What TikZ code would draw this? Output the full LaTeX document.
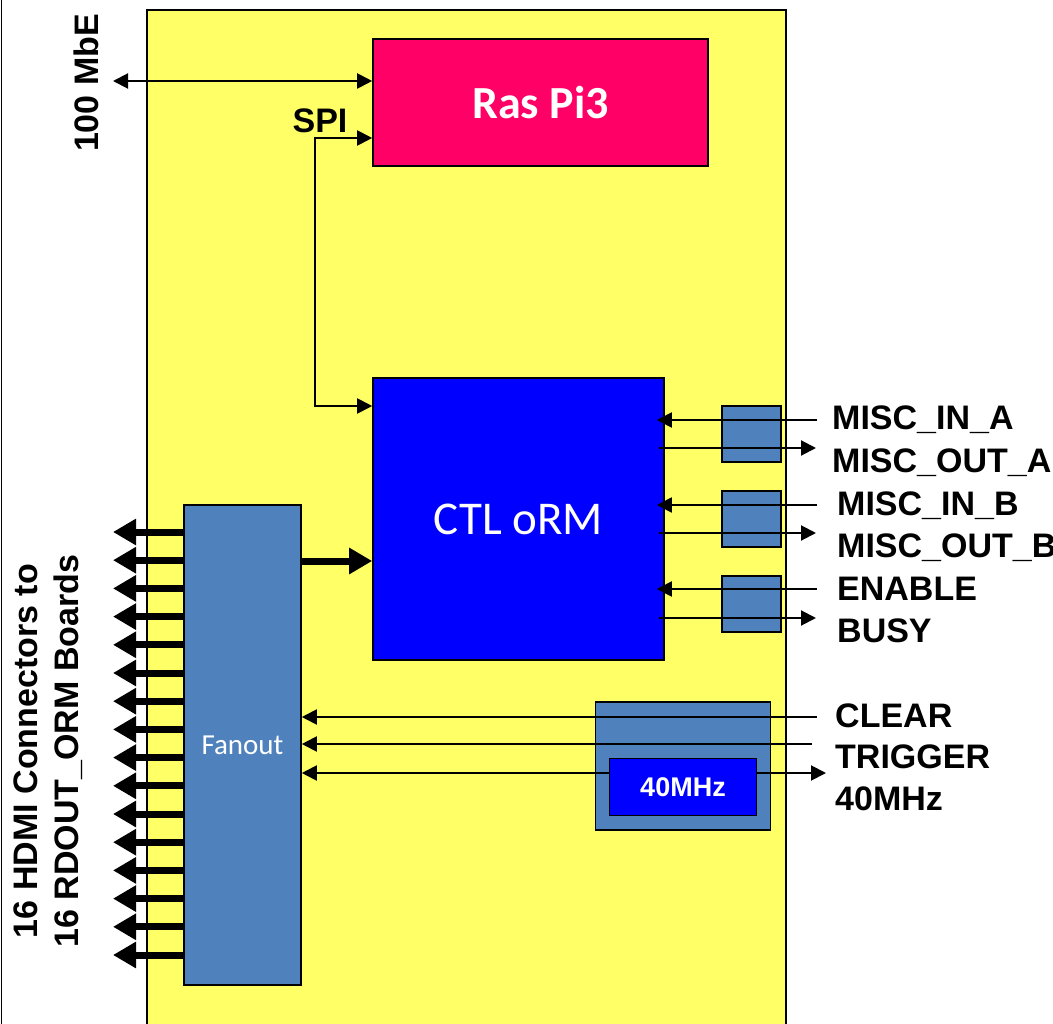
\documentclass[tikz,border=0pt]{standalone}
\usepackage{fontspec}
\setmainfont{Liberation Sans}
\newfontfamily\calfont{Carlito}
\usetikzlibrary{arrows.meta, positioning, calc}

\definecolor{boardY}{RGB}{255,255,102}
\definecolor{piRed}{RGB}{255,0,102}
\definecolor{ctlB}{RGB}{0,0,255}
\definecolor{steel}{RGB}{79,129,189}

\begin{document}
\begin{tikzpicture}[
    x=1pt, y=-1pt,
    font=\bfseries\fontsize{34}{41}\selectfont,
    blk/.style={draw=black, line width=1.6pt, inner sep=0pt, anchor=center},
    sig/.style={-{Triangle[length=15pt,width=15pt]}, line width=2pt},
    sigboth/.style={{Triangle[length=15pt,width=15pt]}-{Triangle[length=15pt,width=15pt]}, line width=2pt},
    hdmi/.style={-{Triangle[length=23pt,width=25pt]}, line width=7pt},
    lbl/.style={anchor=base west, inner sep=0pt},
]

\clip (0,0) rectangle (1053,1024);
\draw[line width=1pt] (1,0) -- (1,1024);

% ===== Board =====
\node[blk, fill=boardY, minimum width=639pt, minimum height=1040pt] (board) at (466.5,530) {};

% ===== Ras Pi3 =====
\node[blk, fill=piRed, minimum width=335pt, minimum height=127pt,
      text=white, font=\calfont\bfseries\fontsize{46}{52}\selectfont] (rpi) at (540.5,102.5) {Ras Pi3};

% ===== CTL oRM =====
\node[blk, fill=ctlB, minimum width=291pt, minimum height=282pt,
      text=white, font=\calfont\fontsize{47}{52}\selectfont] (ctl) at (518.5,519) {CTL oRM};

% ===== Fanout =====
\node[blk, fill=steel, minimum width=117pt, minimum height=480pt,
      text=white, font=\calfont\fontsize{29}{33}\selectfont] (fanout) at (242.5,745) {Fanout};

% ===== Misc buffer boxes =====
\node[blk, fill=steel, minimum width=59pt, minimum height=56pt] (bufA) at (751.5,434) {};
\node[blk, fill=steel, minimum width=59pt, minimum height=56pt] (bufB) at (751.5,519) {};
\node[blk, fill=steel, minimum width=59pt, minimum height=56pt] (bufE) at (751.5,604) {};

% ===== Clock box =====
\node[blk, fill=steel, minimum width=175pt, minimum height=128pt] (clkbox) at (683,766) {};

% ===== Ethernet and SPI =====
\coordinate (mbe) at (113,81);
\draw[sigboth] (mbe) -- (rpi.west |- mbe);
\node[rotate=90] (mbelbl) at (86,83) {100 MbE};

\coordinate (spiTop) at (315,138);
\coordinate (spiBot) at (315,406);
\draw[sigboth] (rpi.west |- spiTop) -- (spiTop) -- (spiBot) -- (ctl.west |- spiBot);
\node[anchor=base, inner sep=0pt] (spilbl) at (320,133) {SPI};

% Fanout -> CTL
\coordinate (fcl) at (301,561);
\draw[hdmi] (fcl) -- (ctl.west |- fcl);

% 16 HDMI outputs
\foreach \i in {0,...,15} {
    \coordinate (hdmi\i) at (113,{532+28.2*\i});
    \draw[hdmi] (fanout.west |- hdmi\i) -- (hdmi\i);
}
\node[rotate=90, align=center] (hdmilbl) at (48,751) {16 HDMI Connectors to\\16 RDOUT\_ORM Boards};

% ===== Misc signals =====
\coordinate (inA) at (817,420);
\coordinate (outA) at (816,448);
\coordinate (inB) at (817,505);
\coordinate (outB) at (816,533);
\coordinate (inE) at (817,589);
\coordinate (outE) at (816,618);
\foreach \p in {inA,inB,inE} {
    \draw[sig] (\p) -- ([xshift=-8pt]ctl.east |- \p);
}
\foreach \p in {outA,outB,outE} {
    \draw[sig] ([xshift=-6pt]ctl.east |- \p) -- (\p);
}
\node[lbl] (lInA) at (832,430) {MISC\_IN\_A};
\node[lbl] (lOutA) at (832,472) {MISC\_OUT\_A};
\node[lbl] (lInB) at (837,515) {MISC\_IN\_B};
\node[lbl] (lOutB) at (837,557) {MISC\_OUT\_B};
\node[lbl] (lEn) at (837,600) {ENABLE};
\node[lbl] (lBusy) at (837,642) {BUSY};

% ===== Clear / trigger / clock =====
\coordinate (clr) at (817,717);
\coordinate (trg) at (812,744);
\coordinate (clk) at (826,773);
\draw[sig] (clr) -- (fanout.east |- clr);
\draw[sig] (trg) -- (fanout.east |- trg);
\draw[sigboth] (fanout.east |- clk) -- (clk);
\node[blk, fill=ctlB, minimum width=147pt, minimum height=57pt,
      text=white, font=\bfseries\fontsize{27}{31}\selectfont] (osc) at (683,787) {40MHz};

\node[lbl] (lClr) at (835,727) {CLEAR};
\node[lbl] (lTrg) at (835,768) {TRIGGER};
\node[lbl] (lClk) at (835,810) {40MHz};

\end{tikzpicture}
\end{document}
